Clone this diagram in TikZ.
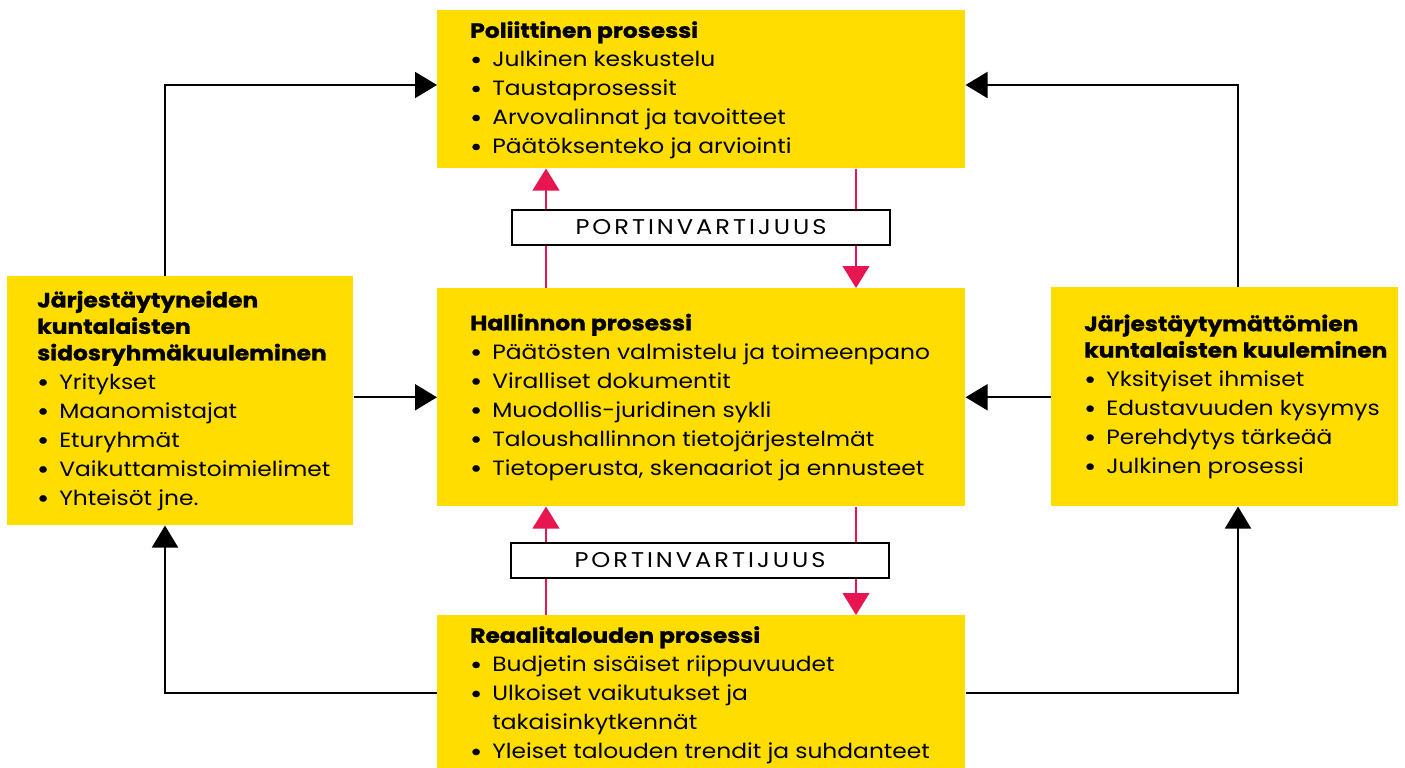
\documentclass[tikz,border=0pt]{standalone}
\usepackage{fontspec}
\setmainfont{Poppins}[FakeStretch=1.13, BoldFeatures={FakeBold=1.2}]
\newfontfamily\gatefont{Poppins}[LetterSpace=14,FakeStretch=1.13]
\usetikzlibrary{arrows.meta,calc}
\definecolor{ylw}{RGB}{255,221,0}
\definecolor{rd}{RGB}{232,22,80}
\newcommand\bl{\makebox[16.5pt][l]{\textbf{•}}}
\newcommand\ind{\hspace*{16.5pt}}
\tikzset{
  box/.style={fill=ylw, draw=none, anchor=north west, inner sep=0pt},
  txt/.style={align=left, inner sep=0pt, font=\fontsize{15.5}{21.75}\selectfont},
  conn/.style={draw=black, line width=1.5pt, -{Triangle[length=16.5pt,width=19.5pt]}},
  rconn/.style={draw=rd, line width=1.5pt, -{Triangle[length=16.5pt,width=20pt]}},
  gate/.style={draw=black, fill=white, line width=1.5pt, minimum width=283.5pt, minimum height=26.25pt, inner sep=0pt, font=\gatefont\fontsize{16}{17}\selectfont}
}
\begin{document}
\begin{tikzpicture}[x=0.75pt,y=-0.75pt]
\useasboundingbox (0,0) rectangle (1405,767);
% boxes
\node[box, minimum width=396pt, minimum height=118.5pt] (T) at (437,10) {};
\node[box, minimum width=396pt, minimum height=163.5pt] (M) at (437,288) {};
\node[box, minimum width=396pt, minimum height=120pt] (B) at (437,615) {};
\node[box, minimum width=259.5pt, minimum height=186.75pt] (L) at (7,276) {};
\node[box, minimum width=260.25pt, minimum height=164.25pt] (R) at (1051,287) {};
% texts
\node[txt, anchor=west] (Tt) at ($(T.west)+(33,1)$) {\textbf{Poliittinen prosessi}\\
\bl Julkinen keskustelu\\
\bl Taustaprosessit\\
\bl Arvovalinnat ja tavoitteet\\
\bl Päätöksenteko ja arviointi};
\node[txt, anchor=west] (Mt) at ($(M.west)+(33,0)$) {\textbf{Hallinnon prosessi}\\
\bl Päätösten valmistelu ja toimeenpano\\
\bl Viralliset dokumentit\\
\bl Muodollis-juridinen sykli\\
\bl Taloushallinnon tietojärjestelmät\\
\bl Tietoperusta, skenaariot ja ennusteet};
\node[txt, anchor=north west] (Bt) at (470,626) {\textbf{Reaalitalouden prosessi}\\
\bl Budjetin sisäiset riippuvuudet\\
\bl Ulkoiset vaikutukset ja\\
\ind takaisinkytkennät\\
\bl Yleiset talouden trendit ja suhdanteet};
\node[txt, anchor=west] (Lt) at ($(L.west)+(30,0)$) {\textbf{Järjestäytyneiden}\\[-1.9pt]
\textbf{kuntalaisten}\\[-1.9pt]
\textbf{sidosryhmäkuuleminen}\\
\bl Yritykset\\
\bl Maanomistajat\\
\bl Eturyhmät\\
\bl Vaikuttamistoimielimet\\
\bl Yhteisöt jne.};
\node[txt, anchor=west] (Rt) at ($(R.west)+(33,0)$) {\textbf{Järjestäytymättömien}\\[-1.9pt]
\textbf{kuntalaisten kuuleminen}\\
\bl Yksityiset ihmiset\\
\bl Edustavuuden kysymys\\
\bl Perehdytys tärkeää\\
\bl Julkinen prosessi};
% black connectors
\coordinate (Lup) at ($(L.north west)+(158,0)$);
\coordinate (Ldn) at ($(L.south west)+(158,0)$);
\coordinate (Rup) at ($(R.north west)+(187,0)$);
\coordinate (Rdn) at ($(R.south west)+(187,0)$);
\coordinate (Tl) at ($(T.north west)+(0,75)$);
\coordinate (Tr) at ($(T.north east)+(0,75)$);
\coordinate (Bl) at ($(B.north west)+(0,78)$);
\coordinate (Br) at ($(B.north east)+(0,78)$);
\draw[conn] (Lup) |- (Tl);
\draw[conn] (Rup) |- (Tr);
\draw[conn] (L.east |- M.west) -- (M.west);
\draw[conn] (R.west |- M.east) -- (M.east);
\draw[conn] (Bl) -| (Ldn);
\draw[conn] (Br) -| (Rdn);
% red connectors
\draw[rconn] ($(M.north west)+(109,0)$) -- ($(T.south west)+(109,0)$);
\draw[rconn] ($(T.south west)+(419,0)$) -- ($(M.north west)+(419,0)$);
\draw[rconn] ($(B.north west)+(109,0)$) -- ($(M.south west)+(109,0)$);
\draw[rconn] ($(M.south west)+(419,0)$) -- ($(B.north west)+(419,0)$);
% gates
\node[gate] (G1) at (701,227.5) {PORTINVARTIJUUS};
\node[gate] (G2) at (700,560.5) {PORTINVARTIJUUS};
\end{tikzpicture}
\end{document}
